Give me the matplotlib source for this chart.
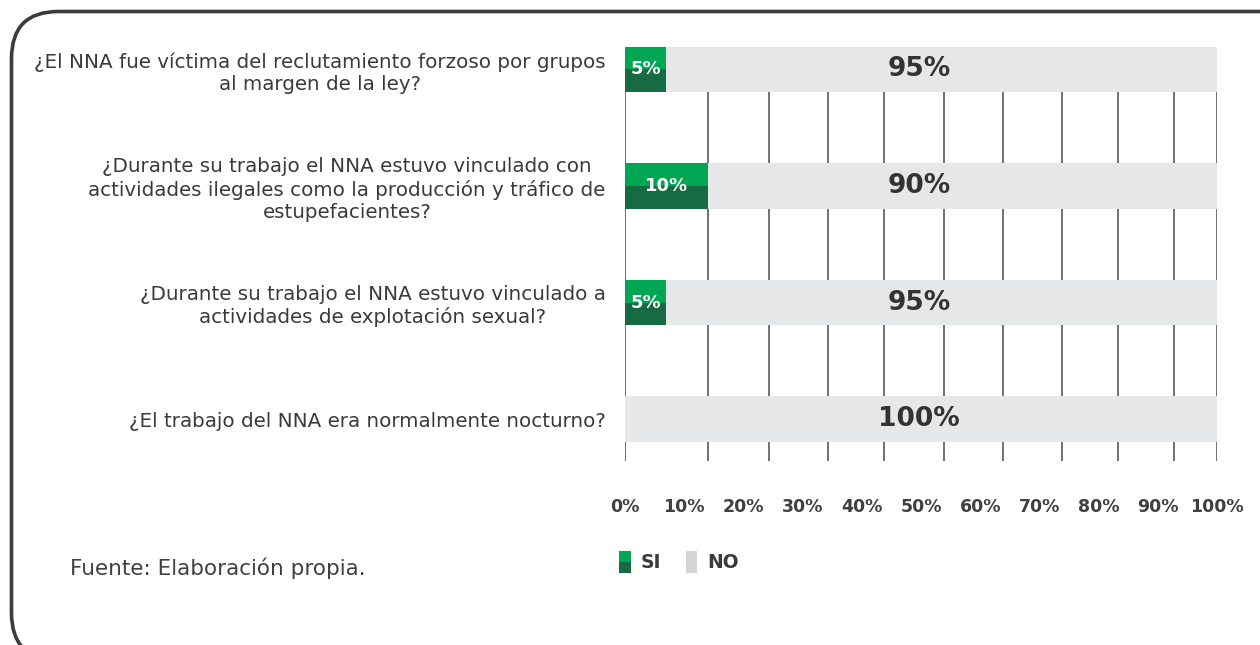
import numpy as np
import matplotlib
matplotlib.use("Agg")
import matplotlib.pyplot as plt
from matplotlib.patches import Rectangle, FancyBboxPatch
from matplotlib.legend_handler import HandlerBase
from matplotlib.transforms import blended_transform_factory

# ====== Data ======
questions = [
    "¿El NNA fue víctima del reclutamiento forzoso por grupos\nal margen de la ley?",
    "¿Durante su trabajo el NNA estuvo vinculado con\nactividades ilegales como la producción y tráfico de\nestupefacientes?",
    "¿Durante su trabajo el NNA estuvo vinculado a\nactividades de explotación sexual?",
    "¿El trabajo del NNA era normalmente nocturno?",
]
si_pct = [5, 10, 5, 0]
no_pct = [95, 90, 95, 100]
tick_vals = list(range(0, 101, 10))
source_note = "Fuente: Elaboración propia."

# ====== Style ======
GREEN_LIGHT = "#00A651"
GREEN_DARK = "#166B43"
GRAY_BAR = "#E6E7E8"
GRAY_SWATCH = "#D3D4D6"
TEXT = "#3A3A3A"
GRID = "#4A4A4A"
BAR_H = 0.39

# the original gridlines are not evenly spaced; bars follow them
grid_px = np.array([625, 707.7, 769, 828, 884, 944, 1002.7, 1062.3, 1118.3, 1174.3, 1217.3])
grid_frac = (grid_px - grid_px[0]) / (grid_px[-1] - grid_px[0]) * 100.0
grid_vals = np.array(tick_vals, dtype=float)


def warp(x):
    return np.interp(x, grid_vals, grid_frac)


def unwarp(x):
    return np.interp(x, grid_frac, grid_vals)


class TwoToneHandler(HandlerBase):
    def create_artists(self, legend, orig_handle, xdescent, ydescent,
                       width, height, fontsize, trans):
        top = Rectangle((-xdescent, -ydescent + height / 2), width, height / 2,
                        facecolor=GREEN_LIGHT, edgecolor="none", transform=trans)
        bot = Rectangle((-xdescent, -ydescent), width, height / 2,
                        facecolor=GREEN_DARK, edgecolor="none", transform=trans)
        return [top, bot]


plt.rcParams["font.family"] = "DejaVu Sans"

fig = plt.figure(figsize=(12.6, 6.45), dpi=100)
ax = fig.add_axes([625 / 1260, 1 - 461 / 645, 592.3 / 1260, (461 - 46.7) / 645])
ax.set_xscale("function", functions=(warp, unwarp))

y = np.arange(len(questions))
si_bars = ax.barh(y, si_pct, height=BAR_H, color=GREEN_LIGHT, zorder=3)
ax.barh(y + BAR_H / 4, si_pct, height=BAR_H / 2, color=GREEN_DARK, zorder=3)
no_bars = ax.barh(y, no_pct, left=si_pct, height=BAR_H, color=GRAY_SWATCH, zorder=2)
for p in no_bars:
    p.set_facecolor(GRAY_BAR)

ax.set_xlim(0, 100)
ax.set_ylim(3.36, -0.195)
ax.set_xticks(tick_vals)
ax.tick_params(axis="x", length=0, labelbottom=False)
ax.grid(axis="x", color=GRID, linewidth=1.1)
ax.set_axisbelow(True)
ax.set_yticks(y)
ax.set_yticklabels(questions, ma="center", fontsize=14.3, color=TEXT, linespacing=1.2)
ax.tick_params(axis="y", length=0, pad=14)
for s in ax.spines.values():
    s.set_visible(False)

# value labels
center_tr = blended_transform_factory(ax.transAxes, ax.transData)
for yi, s_val, n_val in zip(y, si_pct, no_pct):
    if s_val > 0:
        ax.text(s_val / 2, yi, f"{s_val}%", ha="center", va="center",
                color="white", fontsize=13, fontweight="bold", zorder=4)
    ax.text(0.497, yi, f"{n_val}%", transform=center_tr, ha="center", va="center",
            color="#333333", fontsize=19, fontweight="bold", zorder=4)

# percentage labels sit on an evenly spaced scale in the original
ax2 = ax.twiny()
ax2.set_xlim(0, 100)
ax2.set_xticks(tick_vals)
ax2.set_xticklabels([f"{v}%" for v in tick_vals], fontsize=12.5,
                    fontweight="bold", color="#404040")
ax2.xaxis.set_ticks_position("bottom")
ax2.xaxis.set_label_position("bottom")
ax2.tick_params(axis="x", length=0, pad=27)
for s in ax2.spines.values():
    s.set_visible(False)

fig.legend([si_bars, no_bars], ["SI", "NO"],
           handler_map={si_bars: TwoToneHandler()},
           loc="center left", bbox_to_anchor=(610 / 1260, 1 - 562 / 645),
           ncol=2, frameon=False, borderpad=0, handlelength=0.6, handleheight=1.4,
           handletextpad=0.55, columnspacing=1.3,
           prop={"weight": "bold", "size": 13.5})
for t in fig.legends[0].get_texts():
    t.set_color(TEXT)
for h in fig.legends[0].legend_handles[1:]:
    h.set_facecolor(GRAY_SWATCH)

fig.text(70 / 1260, 1 - 568 / 645, source_note, ha="left", va="center",
         fontsize=15.5, color="#404040")

# rounded frame, partly cut off at the right and bottom
frame = FancyBboxPatch((0.115, -0.15), 13.3, 6.485,
                       boxstyle="round,pad=0,rounding_size=0.47",
                       transform=fig.dpi_scale_trans, facecolor="none",
                       edgecolor="#3C3C3C", linewidth=2.6, clip_on=False)
fig.add_artist(frame)

fig.savefig("out.png", dpi=100)
